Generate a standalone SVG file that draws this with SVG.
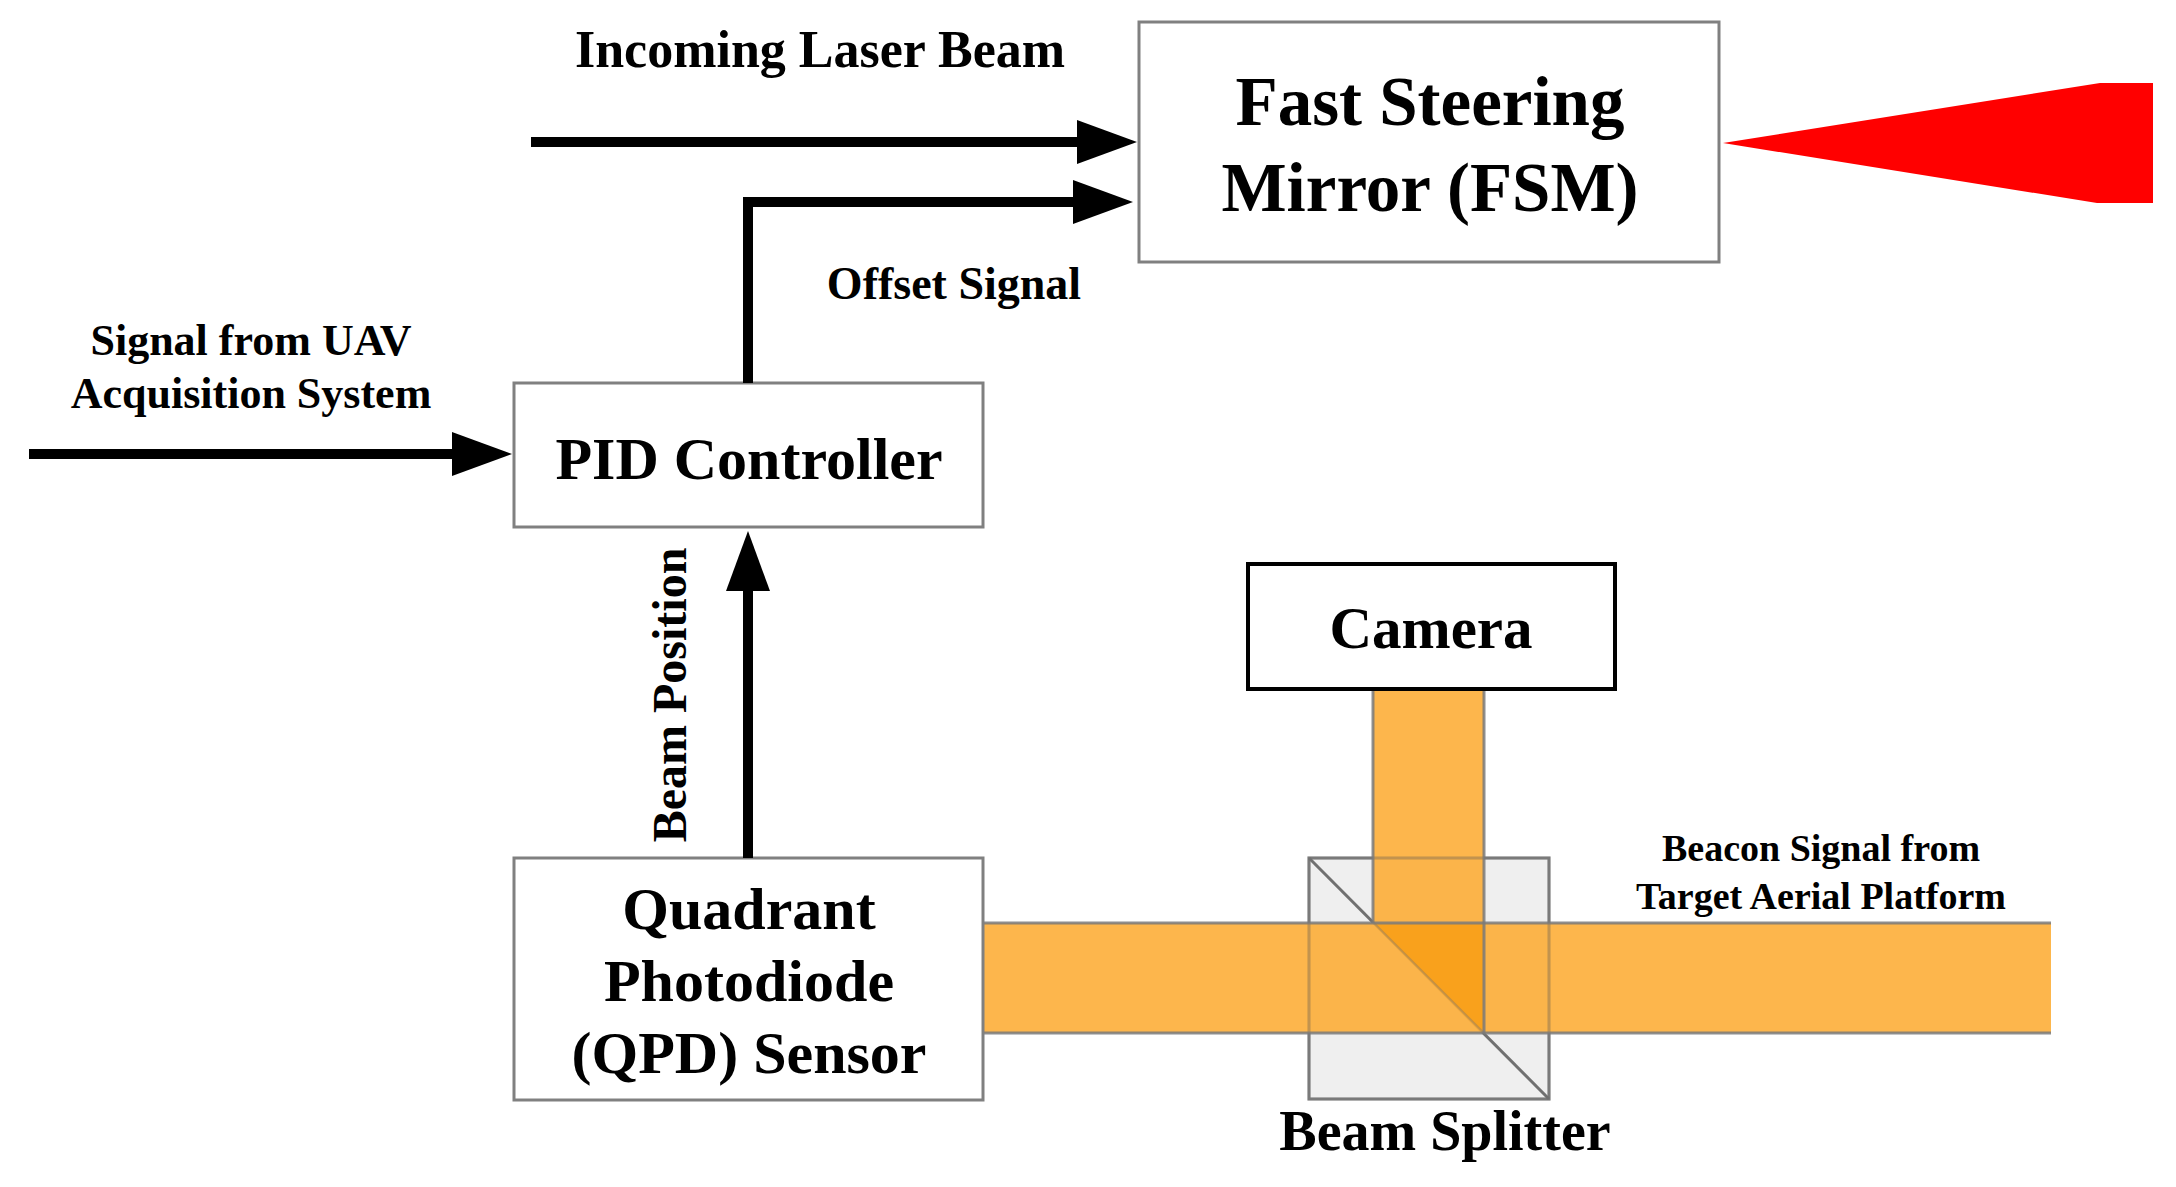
<svg xmlns="http://www.w3.org/2000/svg" width="2176" height="1187" viewBox="0 0 2176 1187">
<style>
.box{fill:#fff;stroke:#808080;stroke-width:3}
.t{font-family:"Liberation Serif","Times New Roman",serif;font-weight:bold;fill:#000;text-anchor:middle}
.conn{stroke:#000;stroke-width:10;fill:none;stroke-linecap:butt}
.edge{stroke:#7a7a7a;stroke-width:3;fill:none;stroke-opacity:0.85}
.beam{fill:#FDAC33;fill-opacity:0.88}
</style>
<defs>
<marker id="ah" viewBox="0 0 60 44" refX="1" refY="22" markerWidth="60" markerHeight="44" markerUnits="userSpaceOnUse" orient="auto">
<path d="M0,0 L60,22 L0,44 Z" fill="#000"/>
</marker>
</defs>
<rect width="2176" height="1187" fill="#fff"/>

<g id="laser-out">
<polygon points="1723,143 2100,83 2153,83 2153,203 2097,203" fill="#FF0000"/>
</g>

<g id="fsm">
<rect class="box" x="1139" y="22" width="580" height="240"/>
<text class="t" x="1430" y="125" font-size="69">Fast Steering</text>
<text class="t" x="1430" y="211" font-size="69">Mirror (FSM)</text>
</g>

<g id="pid">
<rect class="box" x="514" y="383" width="469" height="144"/>
<text class="t" x="749" y="479" font-size="60">PID Controller</text>
</g>

<g id="beam-splitter">
<rect x="1309" y="858" width="240" height="241" fill="#EFEFEF" stroke="#808080" stroke-width="3"/>
<line x1="1309" y1="858" x2="1549" y2="1099" stroke="#707070" stroke-width="3"/>
</g>

<g id="beams">
<rect class="beam" x="1373" y="689" width="111" height="234"/>
<rect class="beam" x="983" y="923" width="1068" height="110"/>
<polygon points="1374,923 1484,923 1484,1033" fill="#F9A11C"/>
<rect x="1309" y="858" width="240" height="241" fill="none" stroke="#707070" stroke-width="3" stroke-opacity="0.35"/>
<line x1="1374" y1="923" x2="1484" y2="1033" stroke="#707070" stroke-width="2" stroke-opacity="0.35"/>
<line class="edge" x1="983" y1="923" x2="2051" y2="923"/>
<line class="edge" x1="983" y1="1033" x2="2051" y2="1033"/>
<line class="edge" x1="1373" y1="689" x2="1373" y2="923"/>
<line class="edge" x1="1484" y1="689" x2="1484" y2="1033"/>
</g>

<g id="qpd">
<rect class="box" x="514" y="858" width="469" height="242"/>
<text class="t" x="749" y="929" font-size="60">Quadrant</text>
<text class="t" x="749" y="1001" font-size="60">Photodiode</text>
<text class="t" x="749" y="1073" font-size="60">(QPD) Sensor</text>
</g>

<g id="camera">
<rect x="1248" y="564" width="367" height="125" fill="#fff" stroke="#000" stroke-width="4"/>
<text class="t" x="1431" y="648" font-size="59">Camera</text>
</g>

<g id="connectors">
<path class="conn" d="M531,142 H1078" marker-end="url(#ah)"/>
<path class="conn" d="M748,383 V202 H1074" marker-end="url(#ah)"/>
<path class="conn" d="M29,454 H453" marker-end="url(#ah)"/>
<path class="conn" d="M748,858 V590" marker-end="url(#ah)"/>
</g>

<g id="labels">
<text class="t" x="820" y="67" font-size="52">Incoming Laser Beam</text>
<text class="t" x="954" y="299" font-size="46">Offset Signal</text>
<text class="t" x="251" y="355" font-size="44">Signal from UAV</text>
<text class="t" x="251" y="408" font-size="44">Acquisition System</text>
<text class="t" font-size="48" transform="translate(686,695) rotate(-90)">Beam Position</text>
<text class="t" x="1821" y="861" font-size="38">Beacon Signal from</text>
<text class="t" x="1821" y="909" font-size="38">Target Aerial Platform</text>
<text class="t" x="1445" y="1150" font-size="56">Beam Splitter</text>
</g>
</svg>
